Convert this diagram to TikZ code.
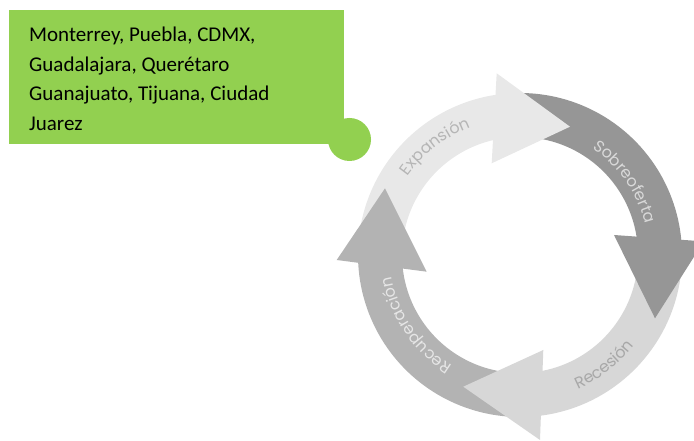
\documentclass[tikz,border=0pt]{standalone}
\usepackage{fontspec}
\setmainfont{Carlito}
\newfontfamily\lblfont{Poppins}
\usetikzlibrary{decorations.text}
\definecolor{boxgreen}{HTML}{92D050}
\definecolor{cexp}{HTML}{E8E8E8}
\definecolor{csob}{HTML}{969696}
\definecolor{crec}{HTML}{D7D7D7}
\definecolor{crecu}{HTML}{B3B3B3}
\definecolor{texp}{HTML}{B5B5B5}
\definecolor{tsob}{HTML}{D9D9D9}
\definecolor{trec}{HTML}{A8A8A8}
\definecolor{trecu}{HTML}{E6E6E6}
\newcommand\cycband[3]{\fill[#1] (#2:162) arc[start angle=#2,end angle=#3,radius=162] -- (#3:118) arc[start angle=#3,end angle=#2,radius=118] -- cycle;}
\newcommand\cyclabel[5]{\path[decorate,decoration={text along path,text align=center,text={|\lblfont\fontsize{16}{16}\selectfont\color{#1}|#2}}] (#3:#5) arc[start angle=#3,end angle=#4,radius=#5];}
\begin{document}
\begin{tikzpicture}[x=1pt,y=1pt]
\useasboundingbox (0,0) rectangle (694,441);
\clip (0,0) rectangle (694,441);
\fill[boxgreen] (9,297) rectangle (344,431);
\fill[boxgreen] (349.5,301.5) circle[radius=21.5];
\node[anchor=base west, inner sep=0, align=left, font=\fontsize{21}{29.7}\selectfont] (cities) at (29,310.3) {Monterrey, Puebla, CDMX,\\Guadalajara, Querétaro\\Guanajuato, Tijuana, Ciudad\\Juarez};
% ring bands
\begin{scope}[shift={(520,186)}]
\cycband{cexp}{178}{97}
\cycband{csob}{94}{3}
\cycband{crec}{1}{-85}
\cycband{crecu}{-87}{-179}
\end{scope}
% arrowheads
\fill[cexp] (496.7,367.7) -- (570,314.3) -- (491.7,277.7) -- cycle;
\fill[csob] (614,206) -- (655,122.7) -- (703.8,199.6) -- cycle;
\fill[crec] (543.3,91) -- (463.3,54.3) -- (540,1) -- cycle;
\fill[crecu] (336.7,181) -- (385,252.7) -- (426.7,169.3) -- cycle;
% labels
\begin{scope}[shift={(520,186)}]
\cyclabel{texp}{Expansión}{158}{98}{137}
\cyclabel{tsob}{Sobreoferta}{64.8}{4.8}{129}
\cyclabel{trec}{Recesión}{-82.5}{-22.5}{146}
\cyclabel{trecu}{Recuperación}{244}{184}{130}
\end{scope}
\end{tikzpicture}
\end{document}
